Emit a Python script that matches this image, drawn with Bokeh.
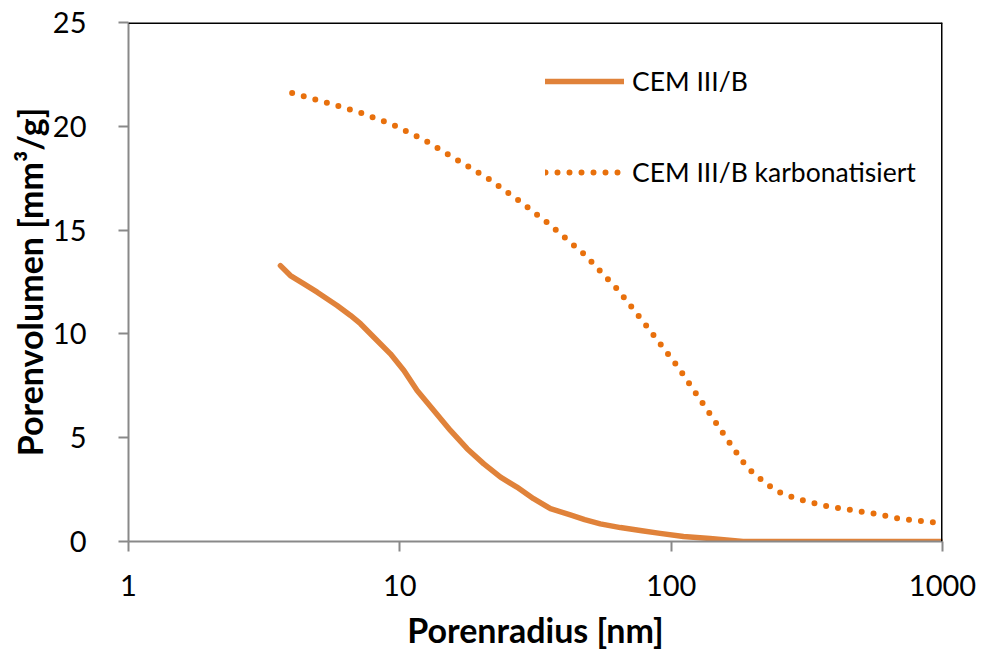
from bokeh.plotting import figure
from bokeh.models import (LogAxis, LinearAxis, Range1d, FixedTicker, Span, Legend, LegendItem,
                          CustomJSTickFormatter, LogScale)
from bokeh.embed import file_html
from bokeh.resources import INLINE

# --- data ---
r_cem = [3.63, 3.95, 4.43, 4.96, 5.87, 6.58, 7.16, 8.02, 9.23, 10.35, 11.58, 13.34, 15.36, 17.7,
         20.4, 23.5, 27.0, 31.1, 35.9, 42.5, 48.0, 54.8, 65.0, 78.0, 91.0, 111.0, 139.0, 160.0,
         184.0, 300.0, 500.0, 1000.0]
v_cem = [13.29, 12.81, 12.41, 12.01, 11.37, 10.89, 10.49, 9.84, 9.04, 8.24, 7.27, 6.31, 5.35, 4.47,
         3.74, 3.10, 2.62, 2.06, 1.58, 1.28, 1.05, 0.85, 0.67, 0.52, 0.39, 0.24, 0.14, 0.07,
         0.0, 0.0, 0.0, 0.0]

r_karb = [4.01, 5.32, 7.06, 9.37, 12.25, 15.9, 21.4, 27.4, 35.2, 48.0, 63.5, 82.2, 106.0, 134.0,
          169.0, 190.0, 208.0, 242.0, 270.0, 299.0, 364.0, 450.0, 556.0, 687.0, 948.0, 1000.0]
v_karb = [21.6, 21.16, 20.68, 20.09, 19.36, 18.46, 17.44, 16.43, 15.33, 13.82, 12.14, 10.29, 8.4,
          6.45, 4.51, 3.58, 3.13, 2.46, 2.2, 2.02, 1.73, 1.54, 1.35, 1.11, 0.91, 0.88]

x_ticks = [1, 10, 100, 1000]
y_ticks = [0, 5, 10, 15, 20, 25]
labels = ["CEM III/B", "CEM III/B karbonatisiert"]
x_title = "Porenradius [nm]"
y_title = "Porenvolumen [mm³/g]"

FONT = "Lato"
GRAY = "#898989"
C_SOLID = "#E0823A"
C_DOT = "#E8700C"

p = figure(width=981, height=652, output_backend="svg", toolbar_location=None,
           x_axis_type=None, y_axis_type=None,
           x_range=Range1d(1, 1000), y_range=Range1d(0, 25),
           frame_width=814, frame_height=519,
           min_border_left=128, min_border_right=39, min_border_top=22, min_border_bottom=111)
p.x_scale = LogScale()
p.outline_line_color = None
p.background_fill_color = "white"
p.border_fill_color = "white"

xa = LogAxis(ticker=FixedTicker(ticks=x_ticks), axis_label=x_title)
ya = LinearAxis(ticker=FixedTicker(ticks=y_ticks), axis_label=y_title)
for ax in (xa, ya):
    ax.axis_line_color = GRAY
    ax.axis_line_width = 2
    ax.major_tick_line_color = GRAY
    ax.major_tick_line_width = 2
    ax.major_tick_out = 10
    ax.major_tick_in = 0
    ax.minor_tick_line_color = None
    ax.major_label_text_font = FONT
    ax.major_label_text_font_size = "29px"
    ax.major_label_text_color = "#000000"
    ax.axis_label_text_font = FONT
    ax.axis_label_text_font_size = "34px"
    ax.axis_label_text_font_style = "bold"
    ax.axis_label_text_color = "#000000"
xa.formatter = CustomJSTickFormatter(code="return tick.toFixed(0);")
xa.major_label_standoff = 23
xa.axis_label_standoff = 10
ya.major_label_standoff = 32
ya.axis_label_standoff = 0
p.add_layout(xa, "below")
p.add_layout(ya, "left")

# top and right frame borders (black)
p.add_layout(Span(location=25, dimension="width", line_color="black", line_width=3))
p.add_layout(Span(location=1000, dimension="height", line_color="black", line_width=3))

l1 = p.line(r_cem, v_cem, line_color=C_SOLID, line_width=5.5, line_cap="round", line_join="round")
l2 = p.line(r_karb, v_karb, line_color=C_DOT, line_width=6, line_cap="round", line_dash="0 12")

legend = Legend(items=[LegendItem(label=labels[0], renderers=[l1]),
                       LegendItem(label=labels[1], renderers=[l2])],
                location=(417, 353), orientation="vertical",
                border_line_color=None, background_fill_alpha=0,
                padding=0, margin=0, spacing=59,
                glyph_width=79, glyph_height=30, label_height=30,
                label_standoff=8, label_text_font=FONT, label_text_font_size="26.5px",
                label_text_color="#000000")
p.add_layout(legend, "center")

open("out.html", "w").write(file_html(p, INLINE))
